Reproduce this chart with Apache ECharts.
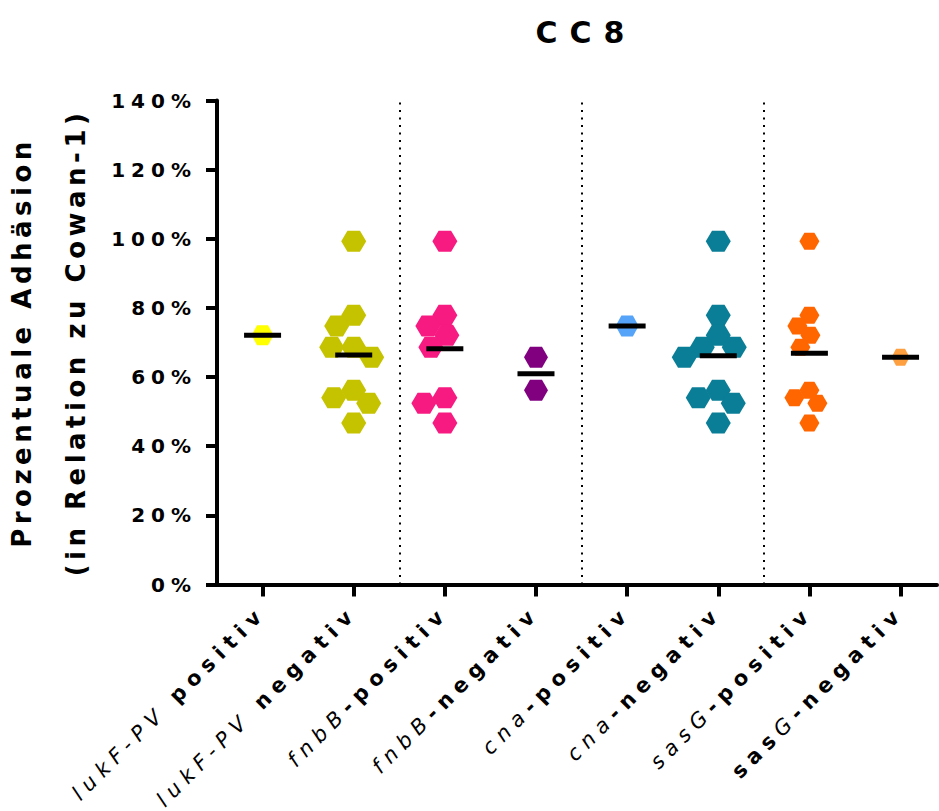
<!DOCTYPE html>
<html>
<head>
<meta charset="utf-8">
<script src="https://cdn.jsdelivr.net/npm/echarts@6/dist/echarts.min.js"></script>
<style>
  html, body { margin: 0; padding: 0; background: #fff; }
  #chart { width: 939px; height: 811px; }
</style>
</head>
<body>
<div id="chart"></div>
<script>
// x tick labels, split into italic gene name / bold parts
const labelParts = [
  [['i', 'lukF-PV'], ['b', ' positiv']],
  [['i', 'lukF-PV'], ['b', ' negativ']],
  [['i', 'fnbB'], ['b', '-positiv']],
  [['i', 'fnbB'], ['b', '-negativ']],
  [['i', 'cna'], ['b', '-positiv']],
  [['i', 'cna'], ['b', '-negativ']],
  [['i', 'sasG'], ['b', '-positiv']],
  [['b', 'sas'], ['i', 'G'], ['b', '-negativ']]
];

// adhesion in % of Cowan-1, one array per group
const lukfPos = [72.1];
const lukfNeg = [99.3, 77.9, 74.8, 68.6, 68.6, 65.7, 56.2, 54.0, 52.4, 46.7];
const fnbbPos = [99.3, 77.9, 74.8, 72.1, 68.6, 54.0, 52.4, 46.7];
const fnbbNeg = [65.7, 56.2];
const cnaPos = [74.8];
const cnaNeg = [99.3, 77.9, 72.1, 68.6, 68.6, 65.7, 56.2, 54.0, 52.4, 46.7];
const sasgPos = [99.3, 77.9, 74.8, 72.1, 68.6, 56.2, 54.0, 52.4, 46.7];
const sasgNeg = [65.7];

const groups = [lukfPos, lukfNeg, fnbbPos, fnbbNeg, cnaPos, cnaNeg, sasgPos, sasgNeg];
const dividers = [1.5, 3.5, 5.5];

const colors = ['#FFFF00', '#C5C200', '#F71A80', '#800080', '#56A4FA', '#0A7E96', '#FF6600', '#FFA040'];
const sizes = [[22, 20], [25, 21], [25, 21], [24, 21], [23, 21], [25, 21], [20, 17], [18, 17]];

const FONT = 'DejaVu Sans';
const HEX = 'path://M0,43.3 L25,0 L75,0 L100,43.3 L75,86.6 L25,86.6 Z';
const LS_X = 6.7;
// letter spacing (px) by font size, the original uses very wide lettering
const spacing = { 30: 12, 26: 4.5, 21: LS_X, 20: 6 };

const chart = echarts.init(document.getElementById('chart'), null, { renderer: 'svg' });

// left padding makes room for the letter spacing added afterwards
const rich = {};
for (let n = 1; n <= 12; n++) {
  rich['i' + n] = { fontFamily: FONT, fontSize: 21, fontStyle: 'italic', fontWeight: 'normal', color: '#000', padding: [0, 0, 0, n * LS_X] };
  rich['b' + n] = { fontFamily: FONT, fontSize: 21, fontStyle: 'normal', fontWeight: 'bold', color: '#000', padding: [0, 0, 0, n * LS_X] };
}

const base = {
  animation: false,
  backgroundColor: '#fff',
  title: {
    text: 'CC8',
    left: 581,
    top: 12,
    textAlign: 'center',
    textStyle: { fontFamily: FONT, fontSize: 30, fontWeight: 'bold', color: '#000' }
  },
  grid: { left: 217, right: 2, top: 100.5, bottom: 226.5, outerBoundsMode: 'none' },
  xAxis: {
    type: 'value',
    min: -0.5,
    max: 7.4,
    splitLine: { show: false },
    axisLine: { lineStyle: { color: '#000', width: 4 } },
    axisTick: { customValues: labelParts.map((_, i) => i), length: 12, lineStyle: { color: '#000', width: 4 } },
    axisLabel: {
      customValues: labelParts.map((_, i) => i),
      rotate: 45,
      margin: 25,
      fontFamily: FONT,
      fontSize: 21,
      color: '#000',
      formatter: v => labelParts[Math.round(v)].map(([k, t]) => `{${k}${t.length}|${t}}`).join(''),
      rich
    }
  },
  yAxis: {
    type: 'value',
    min: 0,
    max: 140,
    interval: 20,
    name: 'Prozentuale Adhäsion\n(in Relation zu Cowan-1)',
    nameLocation: 'middle',
    nameRotate: 90,
    nameGap: 114,
    nameMoveOverlap: false,
    nameTextStyle: { fontFamily: FONT, fontSize: 26, fontWeight: 'bold', color: '#000', lineHeight: 54 },
    splitLine: { show: false },
    axisLine: { show: true, onZero: false, lineStyle: { color: '#000', width: 4 } },
    axisTick: { show: true, length: 11, lineStyle: { color: '#000', width: 4 } },
    axisLabel: { formatter: '{value}%', margin: 20, fontFamily: FONT, fontSize: 20, fontWeight: 'bold', color: '#000' }
  },
  series: []
};

chart.setOption(base);

// pixel scale of the axes, used to spread points like a swarm plot
const p0 = chart.convertToPixel({ gridIndex: 0 }, [0, 0]);
const p1 = chart.convertToPixel({ gridIndex: 0 }, [1, 10]);
const pxX = p1[0] - p0[0];
const pxY = (p0[1] - p1[1]) / 10;

function swarm(values, center, size) {
  const placed = [];
  const out = new Array(values.length);
  const order = values.map((_, i) => i).sort((a, b) => values[b] - values[a]);
  order.forEach(i => {
    const y = values[i] * pxY;
    let dx = 0;
    for (let k = 0; k < 80; k++) {
      const cands = k === 0 ? [0] : [-k, k];
      const hit = cands.find(c => placed.every(p =>
        ((c - p.x) / size[0]) ** 2 + ((y - p.y) / size[1]) ** 2 >= 0.72));
      if (hit !== undefined) { dx = hit; break; }
    }
    placed.push({ x: dx, y });
    out[i] = [center + dx / pxX, values[i]];
  });
  return out;
}

const means = groups.map(g => g.reduce((a, b) => a + b, 0) / g.length);

const series = groups.map((g, i) => ({
  type: 'scatter',
  symbol: HEX,
  symbolSize: sizes[i],
  itemStyle: { color: colors[i], opacity: 1 },
  data: swarm(g, i, sizes[i]),
  z: 2
}));

series.push({
  type: 'scatter',
  symbol: 'rect',
  symbolSize: [37, 5],
  itemStyle: { color: '#000', opacity: 1 },
  data: means.map((m, i) => [i, m]),
  z: 5,
  markLine: {
    silent: true,
    symbol: 'none',
    label: { show: false },
    lineStyle: { color: '#000', width: 2, type: [2, 5.5], opacity: 1 },
    data: dividers.map(x => ({ xAxis: x }))
  }
});

chart.setOption({ series });

chart.getDom().querySelectorAll('text').forEach(t => {
  const fs = Math.round(parseFloat(getComputedStyle(t).fontSize));
  if (spacing[fs]) t.style.letterSpacing = spacing[fs] + 'px';
});
</script>
</body>
</html>
